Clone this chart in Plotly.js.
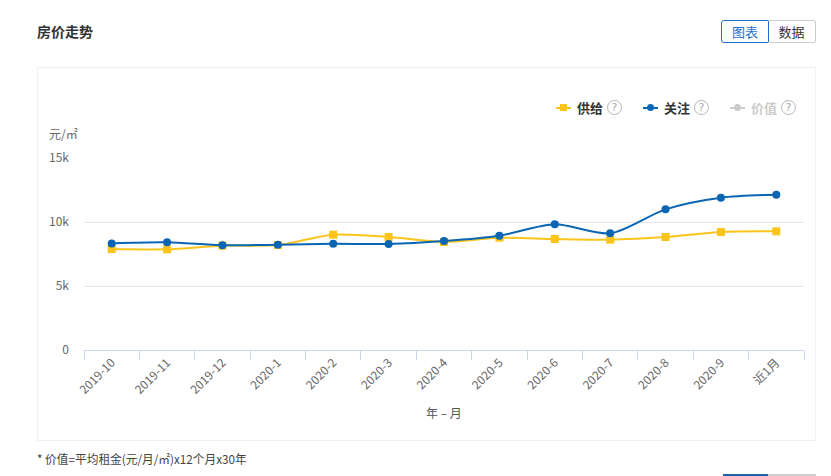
<!DOCTYPE html>
<html>
<head>
<meta charset="utf-8">
<script src="https://cdn.plot.ly/plotly-3.0.1.min.js"></script>
<style>
  html, body { margin:0; padding:0; background:#fff; width:831px; height:476px; overflow:hidden;
    font-family: "Noto Sans CJK SC", "Noto Sans", sans-serif; }
  #title { position:absolute; left:37px; top:21px; font-size:14px; font-weight:bold; color:#333; line-height:20px; }
  .btn { position:absolute; top:20px; height:23px; width:46px; box-sizing:border-box; border:1px solid #ccc;
    font-size:13px; line-height:21px; text-align:center; color:#333; }
  #b1 { left:721px; border-color:#1f6fd1; color:#1f6fd1; border-radius:3px 0 0 3px; width:48px; }
  #b2 { left:768px; border-left:none; border-radius:0 3px 3px 0; width:48px; }
  #card { position:absolute; left:37px; top:67px; width:779px; height:374px; box-sizing:border-box; border:1px solid #f1f1f1; }
  #chart { position:absolute; left:0; top:0; width:831px; height:476px; }
  #legend { position:absolute; left:0; top:0; }
  .lg { position:absolute; top:99px; height:18px; }
  .sym { position:absolute; top:8px; width:15px; height:2px; }
  .mk { position:absolute; }
  .lt { position:absolute; top:0; font-size:13px; font-weight:bold; line-height:18px; white-space:nowrap; }
  .q { position:absolute; top:1px; width:15px; height:15px; border:1px solid #b5b5b5; border-radius:50%;
    box-sizing:border-box; font-size:11px; line-height:13px; text-align:center; color:#aaa; font-family:"DejaVu Sans", sans-serif; }
  #note { position:absolute; left:37px; top:451px; font-size:12px; color:#444; line-height:16px; white-space:nowrap;
    transform-origin:0 50%; transform:scaleX(0.975); }
  #bb1 { position:absolute; left:723px; top:474px; width:45px; height:2px; background:#1f5fb0; }
  #bb2 { position:absolute; left:768px; top:474px; width:48px; height:2px; background:#d0d0d0; }
</style>
</head>
<body>
<div id="title">房价走势</div>
<div class="btn" id="b1">图表</div>
<div class="btn" id="b2">数据</div>
<div id="card"></div>
<div id="chart"></div>
<div id="legend"></div>
<div id="note">* 价值=平均租金(元/月/㎡)x12个月x30年</div>
<div id="bb1"></div><div id="bb2"></div>
<script>
// ---- data ----
const months = ['2019-10','2019-11','2019-12','2020-1','2020-2','2020-3','2020-4','2020-5','2020-6','2020-7','2020-8','2020-9','近1月'];
const supply = [7890, 7865, 8150, 8200, 9010, 8830, 8440, 8775, 8670, 8620, 8830, 9220, 9270];
const attention = [8330, 8410, 8180, 8230, 8300, 8280, 8515, 8930, 9820, 9115, 10990, 11900, 12135];
const seriesNames = ['供给', '关注', '价值'];
const yTickVals = [0, 5000, 10000, 15000];
const yTickText = ['0', '5k', '10k', '15k'];

const C_SUP = '#fcc419', C_ATT = '#0a66b4', C_VAL = '#cccccc';

const traces = [
  { x: months, y: supply, name: seriesNames[0], type: 'scatter', mode: 'lines+markers',
    line: { color: C_SUP, width: 2, shape: 'spline', smoothing: 0.8 },
    marker: { symbol: 'square', size: 8, color: C_SUP }, showlegend: false, hoverinfo: 'x+y' },
  { x: months, y: attention, name: seriesNames[1], type: 'scatter', mode: 'lines+markers',
    line: { color: C_ATT, width: 2, shape: 'spline', smoothing: 0.8 },
    marker: { symbol: 'circle', size: 8, color: C_ATT }, showlegend: false, hoverinfo: 'x+y' }
];

const layout = {
  width: 831, height: 476,
  margin: { l: 84, r: 27, t: 158, b: 126 },
  paper_bgcolor: 'rgba(0,0,0,0)', plot_bgcolor: 'rgba(0,0,0,0)',
  showlegend: false,
  font: { family: '"Noto Sans CJK SC", "Noto Sans", sans-serif', color: '#666', size: 12 },
  xaxis: {
    type: 'category', range: [-0.5, months.length - 0.5], fixedrange: true,
    tickson: 'boundaries', ticks: 'outside', ticklen: 9, tickcolor: '#ccd6eb', tickwidth: 1,
    showline: true, linecolor: '#ccd6eb', linewidth: 1, showgrid: false, zeroline: false,
    tickangle: -45, tickfont: { size: 12, color: '#666' }, automargin: false
  },
  yaxis: {
    range: [0, 15000], fixedrange: true, tickvals: yTickVals, ticktext: yTickText,
    showgrid: true, gridcolor: '#e6e6e6', gridwidth: 1, zeroline: false, showline: false,
    ticks: '', ticklabelstandoff: 14, tickfont: { size: 12, color: '#666' }, automargin: false
  },
  annotations: [
    { text: '元/㎡', xref: 'paper', yref: 'paper', x: -0.028, y: 1.13, xanchor: 'center', yanchor: 'middle',
      showarrow: false, font: { size: 12, color: '#666' } },
    { text: '年 – 月', xref: 'paper', yref: 'paper', x: 0.5, y: -0.323, xanchor: 'center', yanchor: 'middle',
      showarrow: false, font: { size: 12, color: '#555' } }
  ]
};

Plotly.newPlot('chart', traces, layout, { displayModeBar: false, staticPlot: true });

// ---- legend (HTML, mirrors series) ----
const lgItems = [
  { name: seriesNames[0], color: C_SUP, text: '#333', left: 556, shape: 'sq' },
  { name: seriesNames[1], color: C_ATT, text: '#333', left: 643, shape: 'ci' },
  { name: seriesNames[2], color: C_VAL, text: '#ccc', left: 730, shape: 'ci' }
];
const lg = document.getElementById('legend');
lgItems.forEach(it => {
  const d = document.createElement('div');
  d.className = 'lg'; d.style.left = it.left + 'px';
  const s = document.createElement('div'); s.className = 'sym'; s.style.left = '0px'; s.style.background = it.color; d.appendChild(s);
  const m = document.createElement('div'); m.className = 'mk';
  if (it.shape === 'sq') { m.style.cssText = 'left:4px;top:5px;width:7px;height:7px;background:' + it.color; }
  else { m.style.cssText = 'left:4px;top:5px;width:7px;height:7px;border-radius:50%;background:' + it.color; }
  d.appendChild(m);
  const t = document.createElement('div'); t.className = 'lt'; t.style.left = '21px'; t.style.color = it.text; t.textContent = it.name; d.appendChild(t);
  const q = document.createElement('div'); q.className = 'q'; q.style.left = '51px'; q.textContent = '?'; d.appendChild(q);
  lg.appendChild(d);
});
</script>
</body>
</html>
